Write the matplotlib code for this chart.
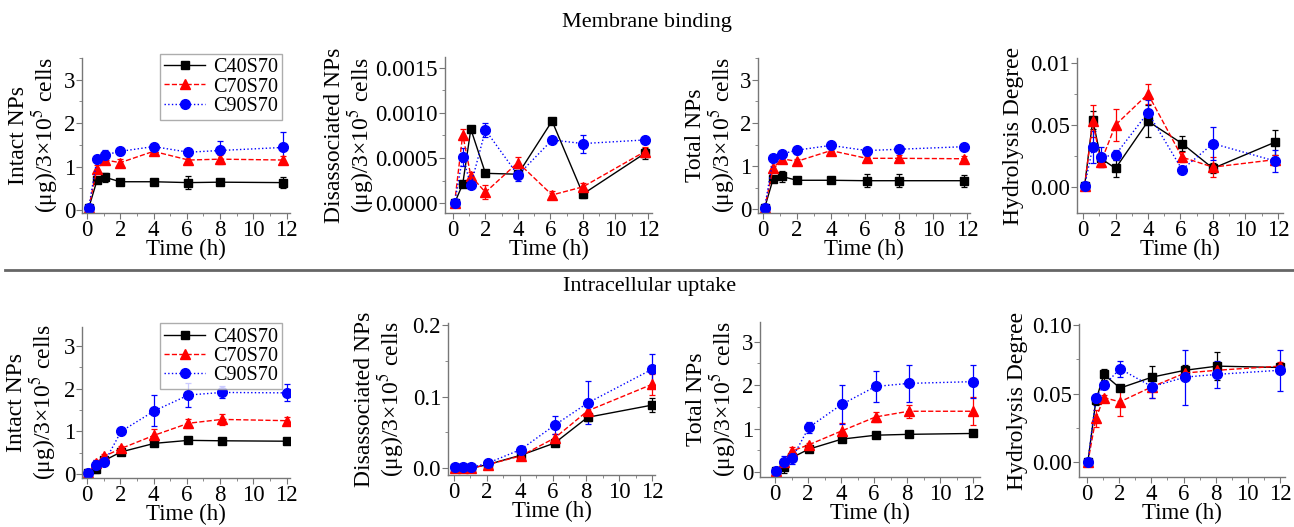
import numpy as np
import matplotlib
matplotlib.use("Agg")
import matplotlib.pyplot as plt
from matplotlib.lines import Line2D
from matplotlib.ticker import MultipleLocator, FixedLocator, FixedFormatter

plt.rcParams["font.family"] = ["Liberation Serif", "DejaVu Serif"]
plt.rcParams["mathtext.fontset"] = "stix"

# sampling times (h)
t_mb = [0.1, 0.6, 1.1, 2.0, 4.0, 6.1, 8.0, 11.8]
t_iu = [0.05, 0.55, 1.05, 2.05, 4.05, 6.1, 8.1, 12.0]

series = ["C40S70", "C70S70", "C90S70"]

# membrane binding - intact NPs
mb_intact_c40 = [0.04, 0.68, 0.75, 0.65, 0.65, 0.63, 0.64, 0.63]
mb_intact_c70 = [0.04, 0.95, 1.15, 1.09, 1.35, 1.15, 1.17, 1.15]
mb_intact_c90 = [0.04, 1.17, 1.27, 1.35, 1.46, 1.33, 1.37, 1.44]
mb_intact_c40_err = [0.02, 0.05, 0.10, 0.05, 0.04, 0.15, 0.04, 0.12]
mb_intact_c70_err = [0.02, 0.08, 0.08, 0.08, 0.06, 0.10, 0.10, 0.10]
mb_intact_c90_err = [0.02, 0.05, 0.10, 0.08, 0.05, 0.05, 0.22, 0.35]

# membrane binding - disassociated NPs
mb_dis_c40 = [0.0, 0.00021, 0.00082, 0.00033, 0.00032, 0.00091, 0.00010, 0.00055]
mb_dis_c70 = [0.0, 0.00076, 0.00030, 0.00012, 0.00045, 0.00009, 0.00018, 0.00057]
mb_dis_c90 = [0.0, 0.00051, 0.00020, 0.00081, 0.00031, 0.00070, 0.00066, 0.00070]
mb_dis_c40_err = [0.00001, 0.00003, 0.00003, 0.00003, 0.00003, 0.00002, 0.00004, 0.00006]
mb_dis_c70_err = [0.00001, 0.00006, 0.00004, 0.00008, 0.00006, 0.00004, 0.00004, 0.00005]
mb_dis_c90_err = [0.00001, 0.00010, 0.00003, 0.00008, 0.00006, 0.00002, 0.00010, 0.00002]

# membrane binding - total NPs
mb_tot_c40 = [0.03, 0.70, 0.76, 0.67, 0.67, 0.66, 0.66, 0.66]
mb_tot_c70 = [0.03, 0.95, 1.17, 1.11, 1.36, 1.18, 1.18, 1.17]
mb_tot_c90 = [0.03, 1.18, 1.28, 1.37, 1.48, 1.36, 1.39, 1.45]
mb_tot_c40_err = [0.02, 0.06, 0.12, 0.05, 0.04, 0.15, 0.15, 0.14]
mb_tot_c70_err = [0.02, 0.06, 0.08, 0.06, 0.05, 0.06, 0.08, 0.06]
mb_tot_c90_err = [0.02, 0.04, 0.06, 0.08, 0.05, 0.05, 0.05, 0.06]

# membrane binding - hydrolysis degree
mb_hyd_c40 = [0.001, 0.054, 0.023, 0.015, 0.053, 0.035, 0.015, 0.036]
mb_hyd_c70 = [0.001, 0.053, 0.020, 0.050, 0.075, 0.024, 0.016, 0.022]
mb_hyd_c90 = [0.001, 0.032, 0.024, 0.026, 0.060, 0.014, 0.035, 0.021]
mb_hyd_c40_err = [0.002, 0.007, 0.004, 0.007, 0.013, 0.006, 0.004, 0.010]
mb_hyd_c70_err = [0.002, 0.013, 0.004, 0.013, 0.008, 0.004, 0.008, 0.004]
mb_hyd_c90_err = [0.003, 0.013, 0.008, 0.004, 0.010, 0.003, 0.013, 0.009]

# intracellular uptake - intact NPs
iu_intact_c40 = [0.02, 0.12, 0.32, 0.52, 0.72, 0.79, 0.78, 0.77]
iu_intact_c70 = [0.02, 0.25, 0.42, 0.60, 0.91, 1.19, 1.28, 1.25]
iu_intact_c90 = [0.02, 0.22, 0.28, 1.00, 1.48, 1.85, 1.91, 1.90]
iu_intact_c40_err = [0.02, 0.10, 0.06, 0.03, 0.03, 0.03, 0.03, 0.03]
iu_intact_c70_err = [0.02, 0.08, 0.06, 0.05, 0.15, 0.10, 0.12, 0.08]
iu_intact_c90_err = [0.02, 0.10, 0.06, 0.03, 0.36, 0.27, 0.14, 0.20]

# intracellular uptake - disassociated NPs
iu_dis_c40 = [0.0, 0.0, 0.0, 0.005, 0.018, 0.035, 0.071, 0.088]
iu_dis_c70 = [0.0, 0.0, 0.0, 0.005, 0.017, 0.042, 0.080, 0.117]
iu_dis_c90 = [0.001, 0.001, 0.001, 0.007, 0.026, 0.060, 0.091, 0.138]
iu_dis_c40_err = [0.001, 0.001, 0.001, 0.001, 0.002, 0.003, 0.005, 0.010]
iu_dis_c70_err = [0.001, 0.001, 0.001, 0.001, 0.003, 0.005, 0.010, 0.015]
iu_dis_c90_err = [0.001, 0.001, 0.001, 0.002, 0.005, 0.013, 0.030, 0.022]

# intracellular uptake - total NPs
iu_tot_c40 = [0.02, 0.11, 0.34, 0.53, 0.76, 0.85, 0.87, 0.89]
iu_tot_c70 = [0.02, 0.23, 0.49, 0.63, 0.95, 1.27, 1.40, 1.40]
iu_tot_c90 = [0.02, 0.23, 0.33, 1.03, 1.56, 1.97, 2.04, 2.08]
iu_tot_c40_err = [0.02, 0.12, 0.08, 0.03, 0.03, 0.03, 0.03, 0.03]
iu_tot_c70_err = [0.02, 0.08, 0.08, 0.05, 0.18, 0.12, 0.15, 0.32]
iu_tot_c90_err = [0.02, 0.15, 0.15, 0.12, 0.45, 0.35, 0.43, 0.38]

# intracellular uptake - hydrolysis degree
iu_hyd_c40 = [0.0, 0.045, 0.064, 0.054, 0.062, 0.067, 0.070, 0.069]
iu_hyd_c70 = [0.0, 0.032, 0.047, 0.044, 0.055, 0.065, 0.067, 0.070]
iu_hyd_c90 = [0.0, 0.047, 0.056, 0.068, 0.055, 0.062, 0.064, 0.067]
iu_hyd_c40_err = [0.001, 0.003, 0.004, 0.002, 0.008, 0.004, 0.010, 0.003]
iu_hyd_c70_err = [0.001, 0.006, 0.002, 0.010, 0.008, 0.003, 0.003, 0.003]
iu_hyd_c90_err = [0.001, 0.002, 0.003, 0.006, 0.008, 0.020, 0.010, 0.015]

styles = [
    dict(color="black", ls="-", marker="s", ms=6),
    dict(color="red", ls="--", marker="^", ms=7),
    dict(color="blue", ls=":", marker="o", ms=7),
]

FW, FH = 1294, 527
fig = plt.figure(figsize=(FW / 100, FH / 100), dpi=100)


def px_axes(x0, y0, x1, y1):
    return fig.add_axes([x0 / FW, 1 - y1 / FH, (x1 - x0) / FW, (y1 - y0) / FH])


lab_np = "(μg)/3×10$^5$ cells"

panels = [
    dict(box=(82, 58, 290, 213), t=t_mb,
         y=[mb_intact_c40, mb_intact_c70, mb_intact_c90],
         e=[mb_intact_c40_err, mb_intact_c70_err, mb_intact_c90_err],
         xlim=(-0.3, 12.2), ylim=(-0.07, 3.5), yt=[0, 1, 2, 3], ytl=["0", "1", "2", "3"],
         ylab="Intact NPs\n" + lab_np, lx=-0.23, leg=True),
    dict(box=(445, 57, 652, 213), t=t_mb,
         y=[mb_dis_c40, mb_dis_c70, mb_dis_c90],
         e=[mb_dis_c40_err, mb_dis_c70_err, mb_dis_c90_err],
         xlim=(-0.49, 12.25), ylim=(-0.00011, 0.00162),
         yt=[0, 0.0005, 0.001, 0.0015], ytl=["0.0000", "0.0005", "0.0010", "0.0015"],
         ylab="Disassociated NPs\n" + lab_np, lx=-0.46, leg=False),
    dict(box=(758, 58, 970, 213), t=t_mb,
         y=[mb_tot_c40, mb_tot_c70, mb_tot_c90],
         e=[mb_tot_c40_err, mb_tot_c70_err, mb_tot_c90_err],
         xlim=(-0.29, 12.18), ylim=(-0.09, 3.51), yt=[0, 1, 2, 3], ytl=["0", "1", "2", "3"],
         ylab="Total NPs\n" + lab_np, lx=-0.22, leg=False),
    dict(box=(1077, 58, 1283, 213), t=t_mb,
         y=[mb_hyd_c40, mb_hyd_c70, mb_hyd_c90],
         e=[mb_hyd_c40_err, mb_hyd_c70_err, mb_hyd_c90_err],
         xlim=(-0.37, 12.31), ylim=(-0.021, 0.104),
         yt=[0, 0.05, 0.10], ytl=["0.00", "0.05", "0.01"],
         ylab="Hydrolysis Degree", lx=-0.31, leg=False),
    dict(box=(82, 327, 290, 478), t=t_iu,
         y=[iu_intact_c40, iu_intact_c70, iu_intact_c90],
         e=[iu_intact_c40_err, iu_intact_c70_err, iu_intact_c90_err],
         xlim=(-0.3, 12.2), ylim=(-0.09, 3.44), yt=[0, 1, 2, 3], ytl=["0", "1", "2", "3"],
         ylab="Intact NPs\n" + lab_np, lx=-0.24, leg=True),
    dict(box=(448, 323, 655, 475), t=t_iu,
         y=[iu_dis_c40, iu_dis_c70, iu_dis_c90],
         e=[iu_dis_c40_err, iu_dis_c70_err, iu_dis_c90_err],
         xlim=(-0.36, 12.18), ylim=(-0.0096, 0.2027),
         yt=[0, 0.1, 0.2], ytl=["0.0", "0.1", "0.2"],
         ylab="Disassociated NPs\n" + lab_np, lx=-0.33, leg=False),
    dict(box=(760, 322, 980, 477), t=t_iu,
         y=[iu_tot_c40, iu_tot_c70, iu_tot_c90],
         e=[iu_tot_c40_err, iu_tot_c70_err, iu_tot_c90_err],
         xlim=(-0.91, 12.42), ylim=(-0.11, 3.45), yt=[0, 1, 2, 3], ytl=["0", "1", "2", "3"],
         ylab="Total NPs\n" + lab_np, lx=-0.22, leg=False),
    dict(box=(1079, 324, 1285, 477), t=t_iu,
         y=[iu_hyd_c40, iu_hyd_c70, iu_hyd_c90],
         e=[iu_hyd_c40_err, iu_hyd_c70_err, iu_hyd_c90_err],
         xlim=(-0.5, 12.31), ylim=(-0.0108, 0.1007),
         yt=[0, 0.05, 0.10], ytl=["0.00", "0.05", "0.10"],
         ylab="Hydrolysis Degree", lx=-0.30, leg=False),
]

for p in panels:
    x0, y0, x1, y1 = p["box"]
    ax = px_axes(x0, y0, x1, y1)
    for k in range(3):
        st = styles[k]
        ax.errorbar(p["t"], p["y"][k], yerr=p["e"][k], color=st["color"], ls=st["ls"],
                    marker=st["marker"], ms=st["ms"], lw=1.0, elinewidth=0.9, capsize=2,
                    capthick=0.9)
    ax.set_xlim(*p["xlim"])
    ax.set_ylim(*p["ylim"])
    ax.set_xticks([0, 2, 4, 6, 8, 10, 12])
    ax.xaxis.set_minor_locator(MultipleLocator(1))
    ax.yaxis.set_major_locator(FixedLocator(p["yt"]))
    ax.yaxis.set_major_formatter(FixedFormatter(p["ytl"]))
    step = p["yt"][1] - p["yt"][0]
    ax.yaxis.set_minor_locator(FixedLocator(
        [p["yt"][0] + step * (i + 0.5) for i in range(len(p["yt"]))]))
    for s in ["top", "right"]:
        ax.spines[s].set_visible(False)
    for s in ["left", "bottom"]:
        ax.spines[s].set_color("#777777")
        ax.spines[s].set_linewidth(1.0)
    ax.tick_params(which="both", direction="out", colors="#777777", labelcolor="black",
                   labelsize=16.5, pad=1.0)
    ax.tick_params(which="major", length=4)
    ax.tick_params(which="minor", length=2)
    ax.set_xlabel("Time (h)", fontsize=16.5, va="center")
    ax.xaxis.set_label_coords(0.5, -36.5 / (y1 - y0))
    ax.set_ylabel(p["ylab"], fontsize=17, va="center", linespacing=1.0)
    ax.yaxis.set_label_coords(p["lx"], 0.5)
    if p["leg"]:
        handles = [Line2D([], [], color=st["color"], ls=st["ls"], marker=st["marker"],
                          ms=st["ms"], lw=1.0) for st in styles]
        ax.legend(handles, series, loc="upper right", bbox_to_anchor=(0.98, 1.05),
                  fontsize=14.5, frameon=True, fancybox=False, edgecolor="#999999",
                  handlelength=2.0, borderpad=0.2, labelspacing=0.0, handletextpad=0.4,
                  borderaxespad=0.2)

fig.text(647 / FW, 1 - 22 / FH, "Membrane binding", ha="center", va="center", fontsize=16)
fig.text(650 / FW, 1 - 286 / FH, "Intracellular uptake", ha="center", va="center", fontsize=16)
fig.add_artist(Line2D([5 / FW, 1.0], [1 - 270 / FH, 1 - 270 / FH], color="#666666", lw=2))

fig.savefig("out.png", dpi=100)
